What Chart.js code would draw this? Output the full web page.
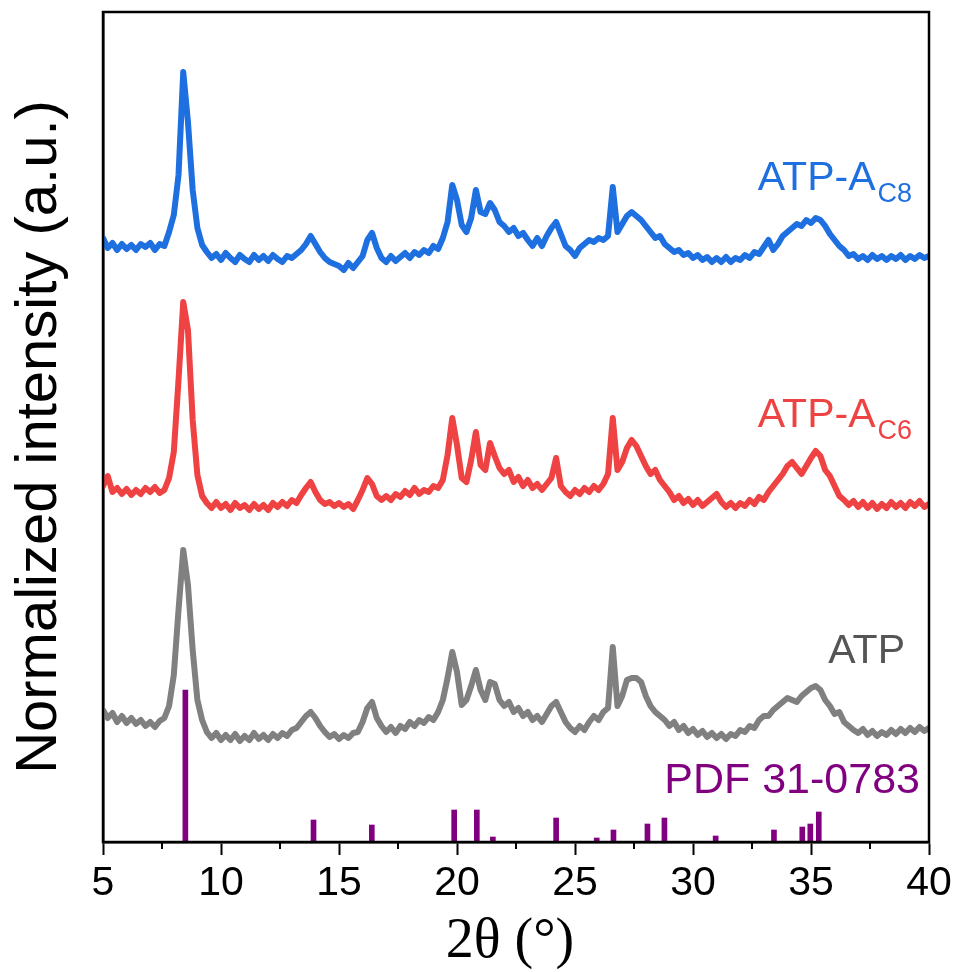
<!DOCTYPE html>
<html>
<head>
<meta charset="utf-8">
<script src="https://cdn.jsdelivr.net/npm/chart.js@4.4.1/dist/chart.umd.min.js"></script>
<style>
  html, body { margin: 0; padding: 0; background: #fff; }
  canvas { display: block; }
</style>
</head>
<body>
<canvas id="xrd" width="960" height="972"></canvas>
<script>
// 2theta grid, 5 to 40 deg in 0.2 deg steps
const twoTheta = Array.from({ length: 176 }, (_, i) => +(5 + 0.2 * i).toFixed(1));

// stacked patterns (offset intensity, a.u.)
const atpAC8 = [
  604, 594, 599, 592, 598, 593, 597, 592, 598, 595,
  599, 592, 598, 596, 610, 627, 667, 770, 720, 652,
  614, 597, 590, 584, 588, 582, 589, 584, 580, 587,
  583, 580, 587, 582, 586, 581, 587, 583, 580, 586,
  584, 588, 592, 598, 606, 598, 590, 584, 580, 578,
  576, 572, 579, 574, 580, 586, 602, 609, 594, 584,
  580, 586, 581, 585, 589, 584, 590, 587, 592, 589,
  596, 593, 604, 620, 657, 642, 617, 610, 624, 652,
  630, 628, 639, 632, 620, 616, 610, 614, 606, 609,
  602, 596, 604, 596, 606, 614, 620, 608, 596, 592,
  586, 594, 598, 602, 600, 604, 602, 606, 655, 610,
  618, 626, 630, 626, 622, 616, 610, 604, 606, 598,
  594, 590, 592, 587, 589, 584, 587, 582, 585, 580,
  584, 580, 585, 580, 584, 582, 587, 584, 590, 588,
  595, 602, 592, 598, 606, 610, 614, 618, 616, 622,
  619, 624, 622, 616, 608, 602, 596, 592, 586, 588,
  583, 586, 582, 587, 583, 586, 582, 586, 583, 587,
  582, 586, 583, 587, 584, 586
];

const atpAC6 = [
  356, 366, 350, 354, 348, 353, 347, 352, 348, 354,
  350, 355, 349, 352, 364, 390, 462, 540, 512, 422,
  367, 346, 339, 334, 340, 334, 338, 332, 339, 334,
  337, 332, 338, 333, 337, 332, 339, 335, 340, 336,
  342, 339, 347, 354, 360, 350, 342, 338, 340, 336,
  339, 335, 338, 333, 342, 352, 364, 358, 346, 342,
  346, 342, 348, 345, 351, 347, 354, 348, 352, 350,
  356, 354, 362, 387, 424, 397, 364, 360, 382, 410,
  377, 372, 399, 386, 374, 368, 372, 360, 365, 356,
  362, 354, 358, 352, 358, 364, 384, 356, 350, 346,
  352, 348, 354, 350, 356, 352, 358, 368, 424, 372,
  380, 394, 402, 396, 386, 376, 368, 372, 362, 356,
  350, 342, 346, 339, 343, 337, 342, 336, 340, 344,
  348, 340, 335, 339, 334, 339, 336, 342, 338, 345,
  342, 350, 356, 362, 368, 376, 380, 374, 368, 376,
  384, 391, 386, 372, 366, 356, 346, 342, 337, 341,
  335, 340, 334, 339, 333, 338, 334, 340, 335, 339,
  334, 340, 336, 341, 335, 338
];

const atp = [
  132, 124, 129, 120, 126, 119, 124, 118, 122, 116,
  120, 115, 121, 124, 136, 167, 232, 292, 257, 192,
  142, 122, 110, 104, 109, 102, 107, 102, 108, 101,
  106, 102, 109, 103, 107, 102, 108, 104, 109, 106,
  112, 114, 120, 126, 130, 124, 116, 110, 105, 108,
  103, 107, 104, 109, 110, 120, 134, 140, 124, 116,
  110, 115, 109, 116, 113, 120, 116, 122, 119, 125,
  122, 130, 142, 164, 190, 170, 137, 142, 156, 172,
  152, 142, 160, 158, 142, 136, 140, 130, 134, 126,
  130, 122, 126, 120, 128, 136, 140, 130, 120, 114,
  110, 116, 112, 120, 126, 122, 130, 134, 195, 136,
  146, 162, 164, 164, 160, 146, 136, 130, 126, 122,
  116, 120, 112, 116, 109, 113, 107, 111, 105, 109,
  104, 108, 103, 108, 106, 112, 110, 116, 114, 122,
  126, 126, 132, 136, 140, 144, 142, 140, 146, 150,
  154, 156, 152, 142, 136, 128, 130, 120, 116, 112,
  109, 113, 107, 111, 106, 110, 107, 112, 108, 113,
  109, 114, 110, 115, 111, 114
];

// reference card PDF 31-0783 (stick positions and heights)
const pdfAngles  = [8.49, 13.92, 16.39, 19.88, 20.84, 21.52, 24.2, 25.92, 26.63, 28.07, 28.79, 30.96, 33.43, 34.63, 34.97, 35.33];
const pdfHeights = [152, 22, 17, 32, 32, 5, 24, 4, 12, 18, 24, 6, 12, 15, 18, 30];

const majorTicks = [5, 10, 15, 20, 25, 30, 35, 40];
const minorTicks = [7.5, 12.5, 17.5, 22.5, 27.5, 32.5, 37.5];

function toPoints(ys) {
    return ys.map((y, i) => ({ x: twoTheta[i], y: y }));
}

function trace(label, ys, color) {
    return {
        type: 'line',
        label: label,
        data: toPoints(ys),
        borderColor: color,
        borderWidth: 6,
        pointRadius: 0,
        tension: 0,
        borderJoinStyle: 'round',
        borderCapStyle: 'round',
        fill: false
    };
}

// draws a label with an optional subscript, right edge at x
function drawLabel(ctx, x, y, main, sub, color, size, subSize) {
    ctx.save();
    ctx.fillStyle = color;
    ctx.textBaseline = 'alphabetic';
    ctx.textAlign = 'left';
    ctx.font = size + 'px "Liberation Sans", Arial, sans-serif';
    const wMain = ctx.measureText(main).width;
    let wSub = 0;
    if (sub) {
        ctx.font = subSize + 'px "Liberation Sans", Arial, sans-serif';
        wSub = ctx.measureText(sub).width + 2;
    }
    const left = x - wMain - wSub;
    ctx.font = size + 'px "Liberation Sans", Arial, sans-serif';
    ctx.fillText(main, left, y);
    if (sub) {
        ctx.font = subSize + 'px "Liberation Sans", Arial, sans-serif';
        ctx.fillText(sub, left + wMain + 2, y + 12);
    }
    ctx.restore();
}

const decorations = {
    id: 'decorations',
    afterDraw(chart) {
        const ctx = chart.ctx;
        const area = chart.chartArea;
        const xs = chart.scales.x;

        // frame
        ctx.save();
        ctx.strokeStyle = '#000';
        ctx.lineWidth = 2.5;
        ctx.strokeRect(area.left, area.top, area.right - area.left, area.bottom - area.top);

        // minor ticks
        ctx.lineWidth = 2;
        ctx.beginPath();
        minorTicks.forEach(v => {
            const px = Math.round(xs.getPixelForValue(v));
            ctx.moveTo(px, area.bottom);
            ctx.lineTo(px, area.bottom + 7);
        });
        ctx.stroke();
        ctx.restore();

        // axis titles
        ctx.save();
        ctx.fillStyle = '#000';
        ctx.textAlign = 'center';
        ctx.textBaseline = 'middle';
        ctx.font = '58px "Liberation Sans", Arial, sans-serif';
        ctx.translate(40, 437);
        ctx.rotate(-Math.PI / 2);
        ctx.fillText('Normalized intensity (a.u.)', 0, 0);
        ctx.restore();

        ctx.save();
        ctx.fillStyle = '#000';
        ctx.textAlign = 'center';
        ctx.textBaseline = 'alphabetic';
        ctx.font = '56px "Liberation Serif", "Times New Roman", serif';
        ctx.fillText('2\u03B8 (\u00B0)', 510, 957);
        ctx.restore();

        // series labels
        drawLabel(ctx, 912, 190, 'ATP-A', 'C8', '#1E6FDF', 41, 27);
        drawLabel(ctx, 912, 427, 'ATP-A', 'C6', '#EF4242', 41, 27);
        drawLabel(ctx, 905, 663, 'ATP', null, '#555555', 41, 0);
        drawLabel(ctx, 920, 793, 'PDF 31-0783', null, '#800080', 43, 0);
    }
};

new Chart(document.getElementById('xrd').getContext('2d'), {
    data: {
        datasets: [
            trace('ATP-AC8', atpAC8, '#1E6FDF'),
            trace('ATP-AC6', atpAC6, '#EF4242'),
            trace('ATP', atp, '#808080'),
            {
                type: 'bar',
                label: 'PDF 31-0783',
                data: pdfAngles.map((a, i) => ({ x: a, y: pdfHeights[i] })),
                backgroundColor: '#800080',
                barThickness: 5,
                borderWidth: 0
            }
        ]
    },
    options: {
        responsive: false,
        animation: false,
        layout: { padding: { top: 12, right: 31, left: 0, bottom: 0 } },
        plugins: {
            legend: { display: false },
            tooltip: { enabled: false }
        },
        scales: {
            x: {
                type: 'linear',
                position: 'bottom',
                min: 5,
                max: 40,
                offset: false,
                afterFit: s => { s.height = 130; },
                afterBuildTicks: s => { s.ticks = majorTicks.map(v => ({ value: v })); },
                ticks: {
                    color: '#000',
                    padding: 4,
                    maxRotation: 0,
                    autoSkip: false,
                    font: { family: '"Liberation Sans", Arial, sans-serif', size: 41 }
                },
                grid: {
                    offset: false,
                    drawOnChartArea: false,
                    drawTicks: true,
                    tickLength: 13,
                    tickWidth: 2,
                    tickColor: '#000'
                },
                border: { display: true, color: '#000', width: 2.5 }
            },
            y: {
                min: 0,
                max: 830,
                afterFit: s => { s.width = 103; },
                ticks: { display: false },
                grid: { display: false, drawTicks: false },
                border: { display: true, color: '#000', width: 2.5 }
            }
        }
    },
    plugins: [decorations]
});
</script>
</body>
</html>
